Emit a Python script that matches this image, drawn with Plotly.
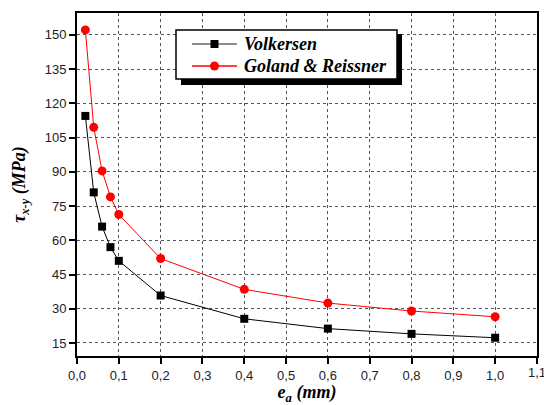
import plotly.graph_objects as go

ea = [0.02, 0.04, 0.06, 0.08, 0.1, 0.2, 0.4, 0.6, 0.8, 1.0]
volkersen = [114.5, 81, 66, 57, 51, 35.8, 25.6, 21.3, 19, 17.3]
goland = [152.2, 109.5, 90.4, 79, 71.3, 52, 38.5, 32.5, 29, 26.5]
series_names = ["Volkersen", "Goland & Reissner"]

x_ticks = [0.0, 0.1, 0.2, 0.3, 0.4, 0.5, 0.6, 0.7, 0.8, 0.9, 1.0, 1.1]
x_labels = ["0,0", "0,1", "0,2", "0,3", "0,4", "0,5", "0,6", "0,7", "0,8", "0,9", "1,0", "1,1"]
y_ticks = [15, 30, 45, 60, 75, 90, 105, 120, 135, 150]

SERIF = "Times New Roman, Liberation Serif, serif"
L, R, T, B = 77, 7, 13, 49
W, H = 544, 405
PW, PH = W - L - R, H - T - B


def px(x):
    return (x - L) / PW


def py(y):
    return (H - B - y) / PH


fig = go.Figure()
fig.add_trace(go.Scatter(x=ea, y=volkersen, mode="lines+markers", name=series_names[0],
                         line=dict(color="black", width=1),
                         marker=dict(symbol="square", size=8, color="black")))
fig.add_trace(go.Scatter(x=ea, y=goland, mode="lines+markers", name=series_names[1],
                         line=dict(color="red", width=1),
                         marker=dict(symbol="circle", size=9, color="red")))

shapes = []
# legend shadow and box
shapes.append(dict(type="rect", xref="paper", yref="paper",
                   x0=px(181), x1=px(402), y0=py(85), y1=py(34),
                   fillcolor="black", line=dict(width=0), layer="above"))
shapes.append(dict(type="rect", xref="paper", yref="paper",
                   x0=px(176), x1=px(397), y0=py(79), y1=py(30),
                   fillcolor="white", line=dict(width=1.5, color="black"), layer="above"))
# legend row 1
shapes.append(dict(type="line", xref="paper", yref="paper", x0=px(192), x1=px(237),
                   y0=py(44), y1=py(44), line=dict(color="#666", width=1.5), layer="above"))
shapes.append(dict(type="rect", xref="paper", yref="paper", x0=px(210.5), x1=px(218.5),
                   y0=py(48), y1=py(40), fillcolor="black", line=dict(width=0), layer="above"))
# legend row 2
shapes.append(dict(type="line", xref="paper", yref="paper", x0=px(192), x1=px(237),
                   y0=py(66), y1=py(66), line=dict(color="red", width=1.5), layer="above"))
shapes.append(dict(type="circle", xref="paper", yref="paper", x0=px(210), x1=px(219),
                   y0=py(70.5), y1=py(61.5), fillcolor="red", line=dict(width=0), layer="above"))

TICKFONT = dict(family="Arial", size=13, color="#222")

annotations = []
for name, yy in zip(series_names, [44, 66]):
    annotations.append(dict(xref="paper", yref="paper", x=px(242), y=py(yy),
                            xanchor="left", yanchor="middle", showarrow=False,
                            text="<b><i>" + name + "</i></b>",
                            font=dict(family=SERIF, size=18, color="black")))
# last x tick label (partly cut by the page edge, as in the reference)
annotations.append(dict(xref="x", yref="paper", x=x_ticks[-1], y=0, yshift=-7,
                        xanchor="center", yanchor="top", showarrow=False,
                        text=x_labels[-1], font=TICKFONT))

axis_common = dict(showline=True, linecolor="black", linewidth=2, mirror=True,
                   ticks="outside", ticklen=6, tickwidth=1.5, tickcolor="black",
                   showgrid=True, gridcolor="#555", gridwidth=1, griddash="dot",
                   zeroline=False, automargin=False,
                   tickfont=TICKFONT)

fig.update_layout(
    width=W, height=H,
    margin=dict(l=L, r=R, t=T, b=B),
    paper_bgcolor="white", plot_bgcolor="white",
    showlegend=False,
    shapes=shapes,
    annotations=annotations,
    xaxis=dict(range=[0, 1.1001], tickvals=x_ticks, ticktext=x_labels[:-1] + [""],
               title=dict(text="<b><i>e<sub>a</sub> (mm)</i></b>", standoff=4,
                          font=dict(family=SERIF, size=18, color="black")),
               **axis_common),
    yaxis=dict(range=[9.3, 159.6], tickvals=y_ticks,
               title=dict(text="<b><i>τ<sub>x-y</sub> (MPa)</i></b>", standoff=14,
                          font=dict(family=SERIF, size=18, color="black")),
               **axis_common),
)

fig.write_html("out.html")
